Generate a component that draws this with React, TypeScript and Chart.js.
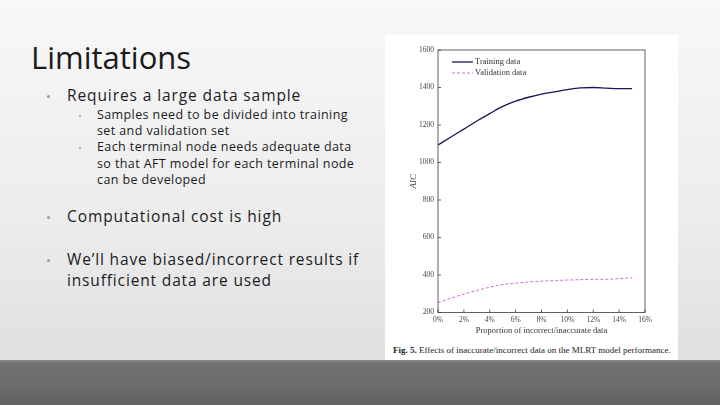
import { useEffect, useRef } from "react";
import { Chart, registerables, Plugin } from "chart.js";

Chart.register(...registerables);

// proportion of incorrect/inaccurate data (%)
const proportions = [0, 1, 2, 3, 4, 5, 6, 7, 8, 9, 10, 11, 12, 13, 14, 15];
const trainingAIC = [1093, 1136, 1178, 1221, 1261, 1299, 1327, 1348, 1365, 1377, 1389, 1398, 1400, 1397, 1394, 1394];
const validationAIC = [253, 276, 298, 317, 335, 349, 356, 363, 367, 370, 373, 375, 377, 377, 381, 385];
const seriesLabels = ["Training data", "Validation data"];
const seriesColors = ["#16165a", "#cf6fd2"];
const xTickStep = 2;
const yTicks = [200, 1600];

const SERIF = "'Liberation Serif', 'DejaVu Serif', serif";
const SANS = "'Open Sans', Lato, 'Noto Sans', sans-serif";

// frame, inward tick marks and an in-plot legend
const framePlugin: Plugin = {
  id: "frame",
  afterDraw(chart) {
    const { ctx, chartArea: a, scales } = chart;
    ctx.save();
    ctx.strokeStyle = "#3a3a3a";
    ctx.lineWidth = 0.8;
    ctx.strokeRect(a.left, a.top, a.right - a.left, a.bottom - a.top);
    const xs = scales.x;
    xs.ticks.forEach((_, i) => {
      const px = xs.getPixelForTick(i);
      ctx.beginPath();
      ctx.moveTo(px, a.bottom);
      ctx.lineTo(px, a.bottom - 3);
      ctx.stroke();
    });
    const ys = scales.y;
    ys.ticks.forEach((_, i) => {
      const py = ys.getPixelForTick(i);
      ctx.beginPath();
      ctx.moveTo(a.left, py);
      ctx.lineTo(a.left + 3, py);
      ctx.stroke();
    });

    // legend
    chart.data.datasets.forEach((ds, i) => {
      const y = a.top + 12 + i * 11;
      ctx.beginPath();
      ctx.strokeStyle = ds.borderColor as string;
      ctx.lineWidth = i === 0 ? 1.3 : 1;
      ctx.setLineDash(i === 0 ? [] : [3, 2]);
      ctx.moveTo(a.left + 14, y);
      ctx.lineTo(a.left + 35, y);
      ctx.stroke();
      ctx.setLineDash([]);
      ctx.fillStyle = "#333";
      ctx.font = `8.5px ${SERIF}`;
      ctx.textBaseline = "middle";
      ctx.textAlign = "left";
      ctx.fillText(ds.label as string, a.left + 37, y);
    });
    ctx.restore();
  },
};

function AICChart() {
  const chartRef = useRef<HTMLCanvasElement>(null);
  const chartInstance = useRef<Chart | null>(null);

  useEffect(() => {
    if (!chartRef.current) return;
    if (chartInstance.current) chartInstance.current.destroy();
    const ctx = chartRef.current.getContext("2d");
    if (!ctx) return;

    chartInstance.current = new Chart(ctx, {
      type: "line",
      data: {
        datasets: [
          {
            label: seriesLabels[0],
            data: proportions.map((p, i) => ({ x: p, y: trainingAIC[i] })),
            borderColor: seriesColors[0],
            borderWidth: 1.3,
            pointRadius: 0,
            cubicInterpolationMode: "monotone",
          },
          {
            label: seriesLabels[1],
            data: proportions.map((p, i) => ({ x: p, y: validationAIC[i] })),
            borderColor: seriesColors[1],
            borderWidth: 1,
            borderDash: [3, 2],
            pointRadius: 0,
            cubicInterpolationMode: "monotone",
          },
        ],
      },
      options: {
        responsive: false,
        animation: false,
        layout: { padding: { left: 0, right: 33, top: 15, bottom: 0.5 } },
        plugins: {
          legend: { display: false },
          tooltip: { enabled: false },
        },
        scales: {
          x: {
            type: "linear",
            min: 0,
            max: 16,
            afterFit: (s) => {
              s.height = 30;
            },
            grid: { display: false, drawTicks: false },
            border: { display: false },
            ticks: {
              stepSize: xTickStep,
              padding: 3,
              color: "#444",
              font: { family: SERIF, size: 7.5 },
              callback: (v) => `${v}%`,
            },
            title: {
              display: true,
              text: "Proportion of incorrect/inaccurate data",
              color: "#333",
              font: { family: SERIF, size: 8.5 },
              padding: { top: 0, bottom: 7 },
            },
          },
          y: {
            min: yTicks[0],
            max: yTicks[1],
            afterFit: (s) => {
              s.width = 53;
            },
            grid: { display: false, drawTicks: false },
            border: { display: false },
            ticks: {
              stepSize: 200,
              padding: 4,
              color: "#444",
              font: { family: SERIF, size: 7.5 },
              callback: (v) => String(v),
            },
            title: {
              display: true,
              text: "AIC",
              color: "#333",
              font: { family: SERIF, size: 9, style: "italic" },
              padding: { top: 23, bottom: 0 },
            },
          },
        },
      },
      plugins: [framePlugin],
    });

    return () => {
      if (chartInstance.current) {
        chartInstance.current.destroy();
        chartInstance.current = null;
      }
    };
  }, []);

  return <canvas ref={chartRef} width={293} height={308} style={{ width: 293, height: 308, display: "block" }} />;
}

function Line({ text, left, center, size, lh, ls }: { text: string; left: number; center: number; size: number; lh: number; ls: number }) {
  return (
    <div
      style={{
        position: "absolute",
        left,
        top: center - lh / 2,
        fontSize: size,
        lineHeight: `${lh}px`,
        letterSpacing: ls,
        whiteSpace: "nowrap",
        color: "#1c1c1c",
        fontFamily: SANS,
        fontWeight: 400,
        fontVariantLigatures: "none",
      }}
    >
      {text}
    </div>
  );
}

function Dot({ left, center, size }: { left: number; center: number; size: number }) {
  return (
    <div
      style={{
        position: "absolute",
        left,
        top: center - size / 2,
        width: size,
        height: size,
        borderRadius: size / 2,
        background: "#9a9a9a",
      }}
    />
  );
}

export default function App() {
  useEffect(() => {
    document.body.style.margin = "0";
  }, []);

  return (
    <div
      style={{
        position: "absolute",
        left: 0,
        top: 0,
        width: 720,
        height: 405,
        overflow: "hidden",
        background: "linear-gradient(180deg, #f8f8f8 0%, #ececed 55%, #dcdcdf 100%)",
      }}
    >
      <div
        style={{
          position: "absolute",
          left: 31,
          top: 38,
          fontSize: 31,
          lineHeight: "38px",
          fontFamily: SANS,
          fontWeight: 400,
          fontVariantLigatures: "none",
          color: "#1a1a1a",
          whiteSpace: "nowrap",
        }}
      >
        Limitations
      </div>

      <Dot left={47} center={96} size={3} />
      <Line text="Requires a large data sample" left={67} center={95} size={15.5} lh={20} ls={0.9} />

      <Dot left={78.5} center={116} size={2.5} />
      <Line text="Samples need to be divided into training" left={97} center={115} size={12.5} lh={16} ls={0.4} />
      <Line text="set and validation set" left={97} center={131} size={12.5} lh={16} ls={0.4} />
      <Dot left={78.5} center={148} size={2.5} />
      <Line text="Each terminal node needs adequate data" left={97} center={147} size={12.5} lh={16} ls={0.4} />
      <Line text="so that AFT model for each terminal node" left={97} center={163.5} size={12.5} lh={16} ls={0.4} />
      <Line text="can be developed" left={97} center={180} size={12.5} lh={16} ls={0.4} />

      <Dot left={47} center={217} size={3} />
      <Line text="Computational cost is high" left={67} center={216} size={15.5} lh={20} ls={0.9} />

      <Dot left={47} center={260} size={3} />
      <Line text="We’ll have biased/incorrect results if" left={67} center={259} size={15.5} lh={20} ls={0.85} />
      <Line text="insufficient data are used" left={67} center={280} size={15.5} lh={20} ls={0.85} />

      <div style={{ position: "absolute", left: 385, top: 35, width: 293, height: 325, background: "#ffffff" }}>
        <AICChart />
        <div
          style={{
            position: "absolute",
            left: 8,
            top: 310,
            fontSize: 9,
            lineHeight: "10px",
            fontFamily: SERIF,
            color: "#222",
            whiteSpace: "nowrap",
          }}
        >
          <b>Fig. 5.</b> Effects of inaccurate/incorrect data on the MLRT model performance.
        </div>
      </div>

      <div
        style={{
          position: "absolute",
          left: 0,
          top: 360,
          width: 720,
          height: 45,
          background: "linear-gradient(180deg, #8d8d8d 0px, #727272 3px, #6a6a6a 60%, #626262 100%)",
        }}
      />
    </div>
  );
}
